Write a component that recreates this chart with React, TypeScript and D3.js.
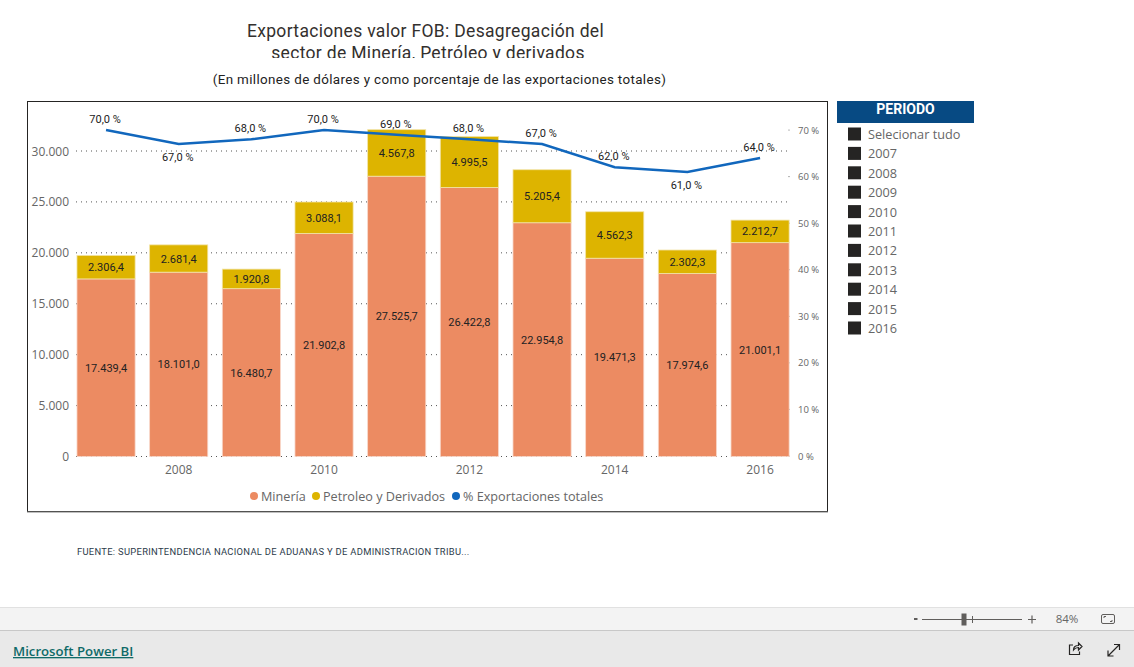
import * as d3 from 'd3';

const years = ['2007', '2008', '2009', '2010', '2011', '2012', '2013', '2014', '2015', '2016'];
const mineria = [17439.4, 18101.0, 16480.7, 21902.8, 27525.7, 26422.8, 22954.8, 19471.3, 17974.6, 21001.1];
const petroleo = [2306.4, 2681.4, 1920.8, 3088.1, 4567.8, 4995.5, 5205.4, 4562.3, 2302.3, 2212.7];
const pctExport = [70, 67, 68, 70, 69, 68, 67, 62, 61, 64];
const pctBelow = ['2008', '2015'];
const leftTicks = [0, 5000, 10000, 15000, 20000, 25000, 30000];
const rightTicks = [0, 10, 20, 30, 40, 50, 60, 70];
const xLabels = ['2008', '2010', '2012', '2014', '2016'];
const slicerItems = ['Selecionar tudo', ...years];
const legendItems = [
  { label: 'Minería', color: '#EC8B62', x: 254 },
  { label: 'Petroleo y Derivados', color: '#DDB400', x: 316 },
  { label: '% Exportaciones totales', color: '#1167BD', x: 456 },
];

const fmt = d3.formatLocale({ decimal: ',', thousands: '.', grouping: [3], currency: ['', ''] });
const fmt1 = fmt.format(',.1f');
const fmt0 = fmt.format(',.0f');

const din = "Roboto, 'Liberation Sans', sans-serif";
const segoe = "'Open Sans', 'Noto Sans', sans-serif";

const x = d3.scaleBand<string>().domain(years).range([69.7, 796.4]).paddingInner(0.2).paddingOuter(0.1);
const y = d3.scaleLinear().domain([0, 30000]).range([456.5, 151]);
const yPct = d3.scaleLinear().domain([0, 70]).range([456, 130]);

const cx = (yr: string) => (x(yr) ?? 0) + x.bandwidth() / 2;

const line = d3
  .line<number>()
  .x((_, i) => cx(years[i]))
  .y((d) => yPct(d));

export default function App() {
  return (
    <svg
      width={1134}
      height={667}
      style={{ position: 'absolute', left: 0, top: 0, background: '#fff' }}
    >
      <defs>
        <clipPath id="title-clip">
          <rect x={200} y={15} width={500} height={43} />
        </clipPath>
      </defs>

      {/* titles */}
      <g clipPath="url(#title-clip)" fontFamily={din} fontSize={17.5} fill="#33302e" textAnchor="middle" letterSpacing={0.32}>
        <text x={425.5} y={37}>Exportaciones valor FOB: Desagregación del</text>
        <text x={428} y={59}>sector de Minería, Petróleo y derivados</text>
      </g>
      <text x={439.5} y={84} fontFamily={din} fontSize={13.4} fill="#222" textAnchor="middle" letterSpacing={0.36}>
        (En millones de dólares y como porcentaje de las exportaciones totales)
      </text>

      {/* frame */}
      <rect x={27.5} y={101.5} width={800} height={410} fill="#fff" stroke="#252423" strokeWidth={1} />
      <line x1={27} x2={828} y1={512} y2={512} stroke="#808080" strokeWidth={1} />

      {/* grid */}
      {leftTicks.map((t) => (
        <line key={t} x1={76} x2={790} y1={y(t)} y2={y(t)} stroke="#555" strokeWidth={1} strokeDasharray="1 4" />
      ))}
      {leftTicks.map((t) => (
        <text key={t} x={69} y={y(t) + 4.5} textAnchor="end" fontFamily={segoe} fontSize={12} fill="#666">
          {fmt0(t)}
        </text>
      ))}
      {rightTicks.map((t) => (
        <g key={t}>
          <circle cx={789} cy={yPct(t)} r={0.6} fill="#666" />
          <text x={798} y={yPct(t) + 3.5} fontFamily={segoe} fontSize={9.5} fill="#666">
            {t} %
          </text>
        </g>
      ))}

      {/* bars */}
      {years.map((yr, i) => (
        <g key={yr}>
          <rect
            x={x(yr)}
            y={y(mineria[i])}
            width={x.bandwidth()}
            height={y(0) - y(mineria[i])}
            fill="#EC8B62"
            stroke="#F8D8CA"
            strokeWidth={0.8}
          />
          <rect
            x={x(yr)}
            y={y(mineria[i] + petroleo[i])}
            width={x.bandwidth()}
            height={y(0) - y(petroleo[i])}
            fill="#DDB400"
            stroke="#F2E3A6"
            strokeWidth={0.8}
          />
          <text x={cx(yr)} y={y(mineria[i] / 2) + 4} textAnchor="middle" fontFamily={din} fontSize={11} fill="#222">
            {fmt1(mineria[i])}
          </text>
          <text
            x={cx(yr)}
            y={y(mineria[i] + petroleo[i] / 2) + 4}
            textAnchor="middle"
            fontFamily={din}
            fontSize={11}
            fill="#222"
          >
            {fmt1(petroleo[i])}
          </text>
        </g>
      ))}

      {/* % line */}
      <path d={line(pctExport) ?? ''} fill="none" stroke="#1167BD" strokeWidth={2.5} />
      {years.map((yr, i) => (
        <text
          key={yr}
          x={cx(yr) - 1}
          y={yPct(pctExport[i]) + (pctBelow.includes(yr) ? 17 : -7)}
          textAnchor="middle"
          fontFamily={din}
          fontSize={11}
          fill="#222"
        >
          {fmt1(pctExport[i])} %
        </text>
      ))}

      {/* x axis */}
      {xLabels.map((yr) => (
        <text key={yr} x={cx(yr)} y={473.5} textAnchor="middle" fontFamily={segoe} fontSize={12} fill="#666">
          {yr}
        </text>
      ))}

      {/* legend */}
      {legendItems.map((d) => (
        <g key={d.label}>
          <circle cx={d.x} cy={496} r={4} fill={d.color} />
          <text x={d.x + 7} y={501} fontFamily={segoe} fontSize={12.65} fill="#666">
            {d.label}
          </text>
        </g>
      ))}

      <text x={77} y={555} fontFamily={din} fontSize={9.4} fill="#2b3a4a" letterSpacing={0.3}>
        FUENTE: SUPERINTENDENCIA NACIONAL DE ADUANAS Y DE ADMINISTRACION TRIBU...
      </text>

      {/* slicer */}
      <rect x={837} y={101} width={137} height={22} fill="#074A83" />
      <text x={905.5} y={114} textAnchor="middle" fontFamily={din} fontSize={14} fontWeight={700} fill="#fff">
        PERIODO
      </text>
      {slicerItems.map((d, i) => (
        <g key={d}>
          <rect x={848} y={127.5 + i * 19.4} width={13} height={13} fill="#252423" />
          <text x={868} y={139 + i * 19.4} fontFamily={segoe} fontSize={12.7} fill="#666">
            {d}
          </text>
        </g>
      ))}

      {/* power bi footer */}
      <rect x={0} y={607} width={1134} height={23} fill="#F3F3F3" />
      <line x1={0} x2={1134} y1={607.5} y2={607.5} stroke="#E1E1E1" />
      <rect x={0} y={630} width={1134} height={37} fill="#E9E9E9" />
      <line x1={0} x2={1134} y1={630.5} y2={630.5} stroke="#C8C8C8" />
      <text x={13} y={656} fontFamily={segoe} fontSize={13.2} fontWeight={600} fill="#0F6A68" textDecoration="underline">
        Microsoft Power BI
      </text>

      <g stroke="#605E5C" fill="none">
        <line x1={914} x2={917.5} y1={619} y2={619} strokeWidth={2} />
        <line x1={922} x2={1022} y1={619.5} y2={619.5} />
        <line x1={972.5} x2={972.5} y1={616} y2={623} />
        <rect x={962} y={614} width={4} height={11} fill="#605E5C" />
        <path d="M1028 619.5h8M1032 615.5v8" strokeWidth={1.2} />
        <rect x={1101.5} y={614.5} width={13} height={9} rx={1.5} />
        <path d="M1104 618v-1.5h2M1112 620v1.5h-2" />
      </g>
      <text x={1067} y={623} textAnchor="middle" fontFamily={segoe} fontSize={11.5} fill="#666">
        84%
      </text>
      <g stroke="#252423" fill="none" strokeWidth={1.2}>
        <path d="M1073 645h-3.5v9.5h10v-3M1073.5 650c0-3 2-4.5 5-4.5v-2.5l3.5 3.5-3.5 3.5v-2.5c-2 0-3.5.5-5 2.5z" />
        <path d="M1108 656l11-11M1114 644.5h5.5v5.5M1108 650.5v5.5h5.5" />
      </g>
    </svg>
  );
}
